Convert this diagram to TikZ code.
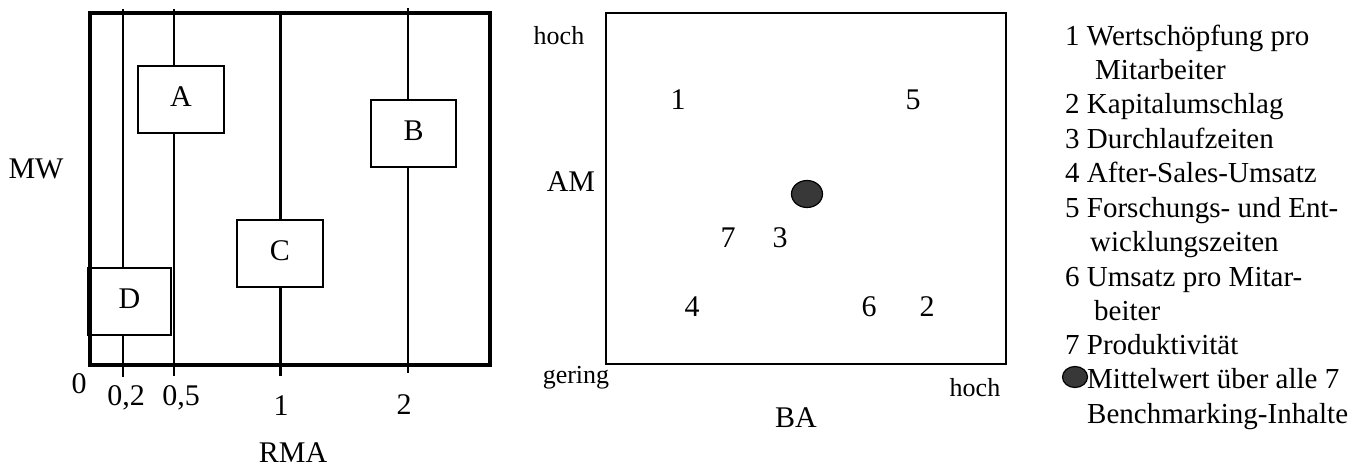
\documentclass[tikz,border=0pt]{standalone}
\usepackage{fontspec}
\setmainfont{Liberation Serif}
\usetikzlibrary{shapes.geometric}
\begin{document}
\begin{tikzpicture}[x=1pt,y=-1pt,
  lbl/.style={inner sep=0pt,anchor=base,font=\fontsize{30}{34}\selectfont},
  sm/.style={inner sep=0pt,anchor=base,font=\fontsize{26}{30}\selectfont},
  leg/.style={inner sep=0pt,anchor=base west,font=\fontsize{29}{34}\selectfont},
  box/.style={draw,fill=white,line width=1.5pt,inner sep=0pt,minimum height=67pt,text depth=5pt,font=\fontsize{30}{34}\selectfont},
  mean/.style={ellipse,draw,line width=1.2pt,fill=black!78,inner sep=0pt}]
\useasboundingbox (0,0) rectangle (1364,466);
% left chart: vertical lines
\coordinate (v02t) at (123,9);   \coordinate (v02b) at (123,377);
\coordinate (v05t) at (174,9);   \coordinate (v05b) at (174,376);
\coordinate (v1t)  at (280,13);  \coordinate (v1b)  at (280,376);
\coordinate (v2t)  at (408,8);   \coordinate (v2b)  at (408,373);
\draw[line width=1.4pt] (v02t) -- (v02b);
\draw[line width=2pt] (v05t) -- (v05b);
\draw[line width=3pt] (v1t) -- (v1b);
\draw[line width=1.6pt] (v2t) -- (v2b);
% boxes
\node[box,minimum width=86pt] (A) at (181,99.5) {A};
\node[box,minimum width=85pt] (B) at (413.5,133.5) {B};
\node[box,minimum width=86pt] (C) at (280,253.5) {C};
\node[box,minimum width=83pt] (D) at (129.5,301.5) {D};
% frame
\draw[line width=4pt] (90,13) rectangle (490,365);
% labels
\node[lbl] (mw) at (36,178) {MW};
\node[lbl] (t0) at (79,393) {0};
\node[lbl] (t02) at (126,405) {0,2};
\node[lbl] (t05) at (181,405) {0,5};
\node[lbl] (t1) at (281,415) {1};
\node[lbl] (t2) at (404,414) {2};
\node[lbl] (rma) at (293,462) {RMA};
% middle chart
\draw[line width=1.6pt] (606,13) rectangle (1006,364);
\node[sm] (hochL) at (559,44) {hoch};
\node[lbl] (am) at (571,191) {AM};
\node[sm] (gering) at (576,383) {gering};
\node[sm] (hochR) at (975,396) {hoch};
\node[lbl] (ba) at (796,427) {BA};
\node[lbl] (p1) at (678,109) {1};
\node[lbl] (p5) at (913,109) {5};
\node[lbl] (p7) at (728,247) {7};
\node[lbl] (p3) at (780,247) {3};
\node[lbl] (p4) at (692,316) {4};
\node[lbl] (p6) at (869,316) {6};
\node[lbl] (p2) at (927,316) {2};
\node[mean,minimum width=31pt,minimum height=27pt] (m) at (807,194) {};
% legend
\node[leg] (L1) at (1065,45) {1 Wertschöpfung pro};
\node[leg] (L1b) at (1095,79) {Mitarbeiter};
\node[leg] (L2) at (1065,113) {2 Kapitalumschlag};
\node[leg] (L3) at (1065,148) {3 Durchlaufzeiten};
\node[leg] (L4) at (1065,182) {4 After-Sales-Umsatz};
\node[leg] (L5) at (1065,217) {5 Forschungs- und Ent-};
\node[leg] (L5b) at (1090,251) {wicklungszeiten};
\node[leg] (L6) at (1065,286) {6 Umsatz pro Mitar-};
\node[leg] (L6b) at (1094,320) {beiter};
\node[leg] (L7) at (1065,354) {7 Produktivität};
\node[mean,minimum width=25pt,minimum height=21pt] (lm) at (1075,377) {};
\node[leg] (L8) at (1087,388) {Mittelwert über alle 7};
\node[leg] (L8b) at (1087,423) {Benchmarking-Inhalte};
\end{tikzpicture}
\end{document}
